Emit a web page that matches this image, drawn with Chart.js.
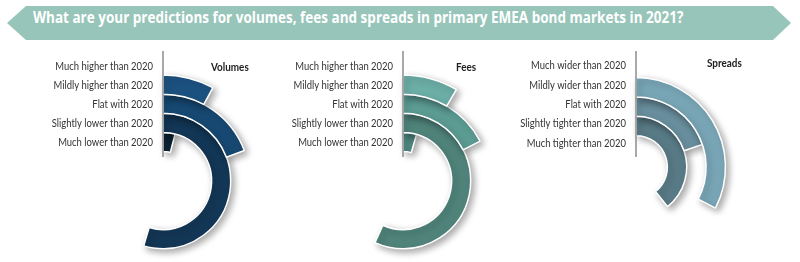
<!DOCTYPE html>
<html>
<head>
<meta charset="utf-8">
<script src="https://cdn.jsdelivr.net/npm/chart.js@4.4.0/dist/chart.umd.min.js"></script>
<style>
  html, body { margin: 0; padding: 0; background: #fff; width: 800px; height: 262px; overflow: hidden; }
  #banner {
    position: absolute; left: 7px; top: 6px; width: 784px; height: 34px; background: #98c5b9;
    clip-path: polygon(0 50%, 19px 0, calc(100% - 18px) 0, 100% 50%, calc(100% - 18px) 100%, 19px 100%);
  }
  #bannerText {
    position: absolute; left: 26px; top: 0; line-height: 34px; white-space: nowrap;
    color: #fff; font: bold 16px "Open Sans", sans-serif; transform-origin: left center;
  }
  canvas { position: absolute; top: 0; }
</style>
</head>
<body>
<div id="banner"><span id="bannerText">What are your predictions for volumes, fees and spreads in primary EMEA bond markets in 2021?</span></div>
<canvas id="volumes"></canvas>
<canvas id="fees"></canvas>
<canvas id="spreads"></canvas>
<script>
// answers, outermost ring first
const volumeLabels = ['Much higher than 2020', 'Mildly higher than 2020', 'Flat with 2020', 'Slightly lower than 2020', 'Much lower than 2020'];
const volumeValues = [0, 7.8, 19.3, 54.6, 4];

const feeLabels = ['Much higher than 2020', 'Mildly higher than 2020', 'Flat with 2020', 'Slightly lower than 2020', 'Much lower than 2020'];
const feeValues = [0, 8.4, 17.4, 56.8, 4.5];

const spreadLabels = ['Much wider than 2020', 'Mildly wider than 2020', 'Flat with 2020', 'Slightly tighter than 2020', 'Much tighter than 2020'];
const spreadValues = [0, 32.6, 19.8, 39.3, 0];

// fit the banner title to its width
const bt = document.getElementById('bannerText');
bt.style.transform = 'scaleX(' + (650 / bt.offsetWidth) + ')';

// text squeezed a little to look like the narrow source font
function narrowText(ctx, text, x, y) {
    ctx.save();
    ctx.translate(x, y);
    ctx.scale(0.9, 1);
    ctx.fillText(text, 0, 0);
    ctx.restore();
}

// draws the axis line, answer labels and panel heading
const ringLabels = {
    id: 'ringLabels',
    afterDraw(chart, args, opts) {
        const ctx = chart.ctx;
        const arcs = chart.data.datasets.map((d, i) => chart.getDatasetMeta(i).data[0]);
        const cx = arcs[0].x;
        const cy = arcs[0].y;
        ctx.save();
        ctx.strokeStyle = '#8c8c8c';
        ctx.lineWidth = 1.5;
        ctx.beginPath();
        ctx.moveTo(cx, 51);
        ctx.lineTo(cx, 157);
        ctx.stroke();

        ctx.fillStyle = '#333';
        ctx.font = '10.5px Lato';
        ctx.textAlign = 'right';
        ctx.textBaseline = 'middle';
        opts.labels.forEach((label, i) => {
            const a = arcs[i];
            const y = cy - (a.innerRadius + a.outerRadius) / 2 + opts.labelShift;
            narrowText(ctx, label, cx - 10, y);
        });

        ctx.fillStyle = '#222';
        ctx.font = 'bold 11px Lato';
        ctx.textAlign = 'left';
        narrowText(ctx, opts.title, cx + opts.titleDx, opts.titleY);
        ctx.restore();
    }
};

// soft drop shadow under the rings
const ringShadow = {
    id: 'ringShadow',
    beforeDatasetsDraw(chart) {
        const ctx = chart.ctx;
        ctx.save();
        ctx.shadowColor = 'rgba(0, 0, 0, 0.35)';
        ctx.shadowBlur = 7;
        ctx.shadowOffsetX = 3;
        ctx.shadowOffsetY = 3;
    },
    afterDatasetsDraw(chart) {
        chart.ctx.restore();
    }
};

function makeRings(id, labels, values, colours, panel) {
    const canvas = document.getElementById(id);
    canvas.width = 270;
    canvas.height = panel.cy * 2;
    canvas.style.left = (panel.cx - 135) + 'px';

    return new Chart(canvas, {
        type: 'doughnut',
        data: {
            labels: ['answer', 'rest'],
            datasets: values.map((v, i) => ({
                label: labels[i],
                data: [v, 100 - v],
                backgroundColor: [colours[i], 'rgba(0,0,0,0)'],
                borderColor: '#fff',
                borderWidth: [v > 0 ? 1.5 : 0, 0]
            }))
        },
        options: {
            responsive: false,
            animation: false,
            events: [],
            radius: panel.radius,
            cutout: (panel.inner / panel.radius * 100) + '%',
            plugins: {
                legend: { display: false },
                tooltip: { enabled: false },
                ringLabels: { labels: labels, title: panel.title, titleDx: panel.titleDx, titleY: panel.titleY, labelShift: panel.labelShift }
            }
        },
        plugins: [ringShadow, ringLabels]
    });
}

makeRings('volumes', volumeLabels, volumeValues,
    ['#1f5a86', '#1c5280', '#174973', '#133756', '#0d2436'],
    { cx: 163, cy: 181, radius: 125, inner: 29.5, title: 'Volumes', titleDx: 48, titleY: 67, labelShift: 1 });

makeRings('fees', feeLabels, feeValues,
    ['#72b3ab', '#6cafa7', '#5c9c93', '#50847b', '#4f8981'],
    { cx: 403, cy: 181, radius: 125, inner: 29.5, title: 'Fees', titleDx: 53, titleY: 67, labelShift: 1 });

makeRings('spreads', spreadLabels, spreadValues,
    ['#7eabbb', '#79a6b6', '#698f9e', '#597b87', '#4d6b76'],
    { cx: 636, cy: 167, radius: 108.8, inner: 12, title: 'Spreads', titleDx: 71, titleY: 63, labelShift: -2 });
</script>
</body>
</html>
